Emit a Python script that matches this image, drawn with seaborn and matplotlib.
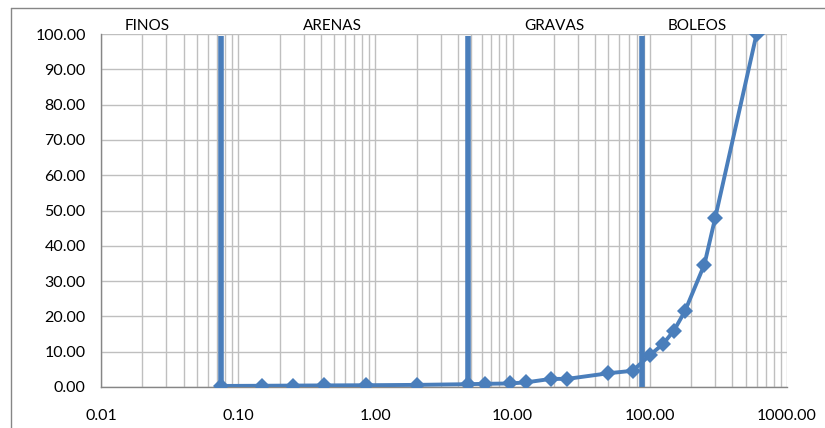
import matplotlib
matplotlib.use("Agg")
import matplotlib.pyplot as plt
import matplotlib.ticker as mticker
from matplotlib.lines import Line2D
import seaborn as sns
import pandas as pd

# Grain size distribution (abertura mm vs % que pasa)
sizes = [0.075, 0.15, 0.25, 0.425, 0.85, 2.0, 4.75, 6.3, 9.5, 12.5, 19.0, 25.0,
         50.0, 75.0, 100.0, 125.0, 150.0, 180.0, 250.0, 300.0, 600.0]
passing = [0.3, 0.35, 0.4, 0.45, 0.5, 0.6, 0.8, 0.9, 1.0, 1.3, 2.3, 2.3,
           3.9, 4.6, 9.0, 12.2, 16.0, 21.4, 34.7, 48.0, 100.0]

# Class limits and labels
limits = [0.075, 4.75, 88.0]
limit_top = 99.5
zone_labels = ["FINOS", "ARENAS", "GRAVAS", "BOLEOS"]
zone_label_x = [0.0216, 0.49, 20.0, 220.0]

blue = "#4A7EBB"
grid_c = "#BFBFBF"

sns.set_style("white")
plt.rcParams['font.family'] = ['Lato', 'DejaVu Sans']

df = pd.DataFrame({"size": sizes, "passing": passing})

fig = plt.figure(figsize=(8.25, 4.28), dpi=100)
ax = fig.add_axes([101 / 825, 1 - 387 / 428, 686 / 825, 353 / 428])

ax.set_xscale("log")
ax.set_xlim(0.01, 1000)
ax.set_ylim(0, 100)

# grid
ax.xaxis.set_major_locator(mticker.LogLocator(base=10, numticks=10))
ax.xaxis.set_minor_locator(mticker.LogLocator(base=10, subs=range(2, 10), numticks=20))
ax.yaxis.set_major_locator(mticker.MultipleLocator(10))
ax.grid(which="both", axis="x", color=grid_c, lw=1.0)
ax.grid(which="major", axis="y", color=grid_c, lw=1.0)
ax.set_axisbelow(True)

# class limits
ax.vlines(limits, 0, limit_top, colors=blue, lw=4.0, zorder=3)

# curve
sns.lineplot(data=df, x="size", y="passing", ax=ax, color=blue, lw=2.8,
             marker="D", markersize=8.5, markeredgewidth=0, zorder=4)

for lab, xx in zip(zone_labels, zone_label_x):
    ax.text(xx, 100.3, lab, ha="center", va="bottom", fontsize=11, color="#000000")

ax.xaxis.set_major_formatter(mticker.FuncFormatter(lambda v, p: f"{v:.2f}"))
ax.yaxis.set_major_formatter(mticker.FuncFormatter(lambda v, p: f"{v:.2f}"))
ax.tick_params(axis="both", which="major", labelsize=11.5, colors="#868686",
               labelcolor="#000000", length=5, width=1, direction="out")
ax.tick_params(axis="x", which="minor", length=0)
ax.tick_params(axis="x", pad=11)
ax.tick_params(axis="y", pad=6)
ax.set_xlabel("")
ax.set_ylabel("")

for s in ["top", "right"]:
    ax.spines[s].set_visible(False)
for s in ["left", "bottom"]:
    ax.spines[s].set_color("#868686")
    ax.spines[s].set_linewidth(1)

# chart area border (only left and top visible)
fig.add_artist(Line2D([10.5 / 825, 10.5 / 825], [0, 1 - 8 / 428], color="#868686", lw=1))
fig.add_artist(Line2D([10.5 / 825, 1], [1 - 8 / 428, 1 - 8 / 428], color="#868686", lw=1))

fig.savefig("out.png", dpi=100)
